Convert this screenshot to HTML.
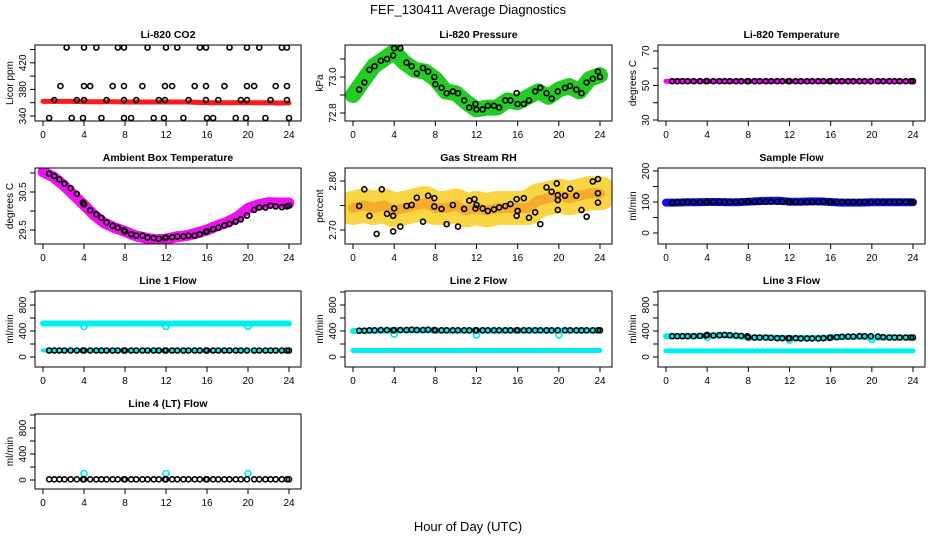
<!DOCTYPE html>
<html><head><meta charset="utf-8"><style>
html,body{margin:0;padding:0;background:#fff}
svg{display:block;font-family:"Liberation Sans",sans-serif}
</style></head><body>
<svg id="c" width="936" height="540" viewBox="0 0 936 540">
<text x="468" y="14" text-anchor="middle" font-size="13">FEF_130411  Average Diagnostics</text>
<text x="468" y="531" text-anchor="middle" font-size="13">Hour of Day (UTC)</text>
</svg>
<script>
const hourly=[0,1,2,3,4,5,6,7,8,9,10,11,12,13,14,15,16,17,18,19,20,21,22,23,24];
const xTicks=[0,4,8,12,16,20,24];
const co2BandVals=[362,362,362,362,361.5,361.5,361.5,361.5,361,361,361,361,361,361,361,360.5,360,360,360,360,360,360,360,359.5,359.5];
const co2PtHours=[2.3,4.0,5.2,7.3,7.9,10.2,12.0,13.1,15.3,15.9,18.2,19.9,21.1,23.3,23.8,1.7,4.0,4.6,6.8,7.9,9.7,11.9,12.6,14.8,15.9,17.7,19.9,20.6,22.7,23.8,1.1,3.3,4.0,6.2,7.9,9.1,11.3,11.9,14.2,15.9,17.1,19.3,19.9,22.2,23.8,0.6,2.8,3.9,5.7,7.9,8.6,10.8,11.8,13.7,16.0,16.6,18.8,19.8,21.7,24.0];
const co2PtVals=[443,443,443,443,443,443,443,443,443,443,443,443,443,443,443,385,385,385,385,385,385,385,385,385,385,385,385,385,385,385,364,364,364,364,364,364,364,364,364,364,364,364,364,364,364,337,337,337,337,337,337,337,337,337,337,337,337,337,337,337];
const ptHours=[0.6,1.1,1.6,2.1,2.7,3.3,3.9,4.0,4.6,5.2,5.7,6.2,6.8,7.3,7.9,8.0,8.6,9.1,9.7,10.2,10.8,11.3,11.9,12.0,12.6,13.1,13.7,14.2,14.8,15.3,15.9,16.0,16.6,17.1,17.7,18.2,18.8,19.3,19.9,20.6,21.1,21.7,22.2,22.7,23.3,23.8,24.0];
const pressBandVals=[72.90,72.98,73.06,73.10,73.14,73.08,73.04,73.03,72.99,72.92,72.91,72.86,72.82,72.83,72.83,72.87,72.86,72.89,72.92,72.89,72.93,72.95,72.92,72.99,73.01];
const pressPtVals=[72.93,72.97,73.04,73.06,73.09,73.10,73.12,73.16,73.16,73.08,73.06,73.02,73.05,73.03,73.00,72.96,72.94,72.91,72.92,72.91,72.87,72.83,72.85,72.82,72.82,72.84,72.84,72.83,72.87,72.87,72.91,72.85,72.85,72.87,72.92,72.94,72.91,72.88,72.92,72.94,72.95,72.93,72.91,72.97,72.99,73.03,73.00];
const tempBandVals=[52.5,52.5,52.5,52.5,52.5,52.5,52.5,52.5,52.5,52.5,52.5,52.5,52.5,52.5,52.5,52.5,52.5,52.5,52.5,52.5,52.5,52.5,52.5,52.5,52.5];
const tempPtVals=[52.5,52.5,52.5,52.5,52.5,52.5,52.5,52.5,52.5,52.5,52.5,52.5,52.5,52.5,52.5,52.5,52.5,52.5,52.5,52.5,52.5,52.5,52.5,52.5,52.5,52.5,52.5,52.5,52.5,52.5,52.5,52.5,52.5,52.5,52.5,52.5,52.5,52.5,52.5,52.5,52.5,52.5,52.5,52.5,52.5,52.5,52.5];
const ambBandVals=[31.03,30.90,30.68,30.42,30.16,29.89,29.68,29.56,29.46,29.35,29.29,29.24,29.26,29.32,29.35,29.42,29.50,29.61,29.71,29.85,30.07,30.16,30.22,30.21,30.21];
const ambPtVals=[30.98,30.92,30.83,30.72,30.60,30.45,30.22,30.18,30.02,29.91,29.82,29.70,29.61,29.56,29.49,29.46,29.39,29.35,29.35,29.30,29.29,29.27,29.29,29.30,29.31,29.33,29.33,29.35,29.35,29.39,29.45,29.47,29.52,29.56,29.62,29.66,29.72,29.78,29.88,30.03,30.09,30.09,30.14,30.12,30.10,30.12,30.14];
const rhBandVals=[2.745,2.75,2.745,2.75,2.74,2.745,2.75,2.755,2.745,2.745,2.75,2.74,2.745,2.74,2.745,2.745,2.745,2.745,2.76,2.765,2.77,2.765,2.77,2.775,2.775];
const rhPtHours=[0.6,1.1,1.6,2.3,2.8,3.3,3.9,3.9,4.0,4.6,5.2,5.7,6.2,6.8,7.3,7.9,7.9,8.6,9.1,9.7,10.2,10.8,11.3,11.8,11.9,12.0,12.6,13.1,13.7,14.2,14.8,15.3,15.9,15.9,16.0,16.6,17.1,17.7,18.2,18.8,19.3,19.8,19.9,19.9,19.9,20.6,21.1,21.7,22.2,22.7,23.3,23.8,23.8,23.8];
const rhPtVals=[2.749,2.783,2.729,2.692,2.783,2.733,2.697,2.729,2.744,2.707,2.749,2.751,2.766,2.717,2.770,2.748,2.765,2.743,2.712,2.751,2.707,2.743,2.760,2.763,2.744,2.751,2.744,2.739,2.742,2.746,2.749,2.753,2.763,2.729,2.739,2.765,2.725,2.736,2.712,2.787,2.778,2.795,2.771,2.761,2.741,2.770,2.784,2.770,2.741,2.727,2.799,2.775,2.804,2.756];
const sampleBandVals=[98,98,99,99,100,100,99,99,101,103,104,104,101,101,102,102,100,98,98,98,99,99,99,99,99];
const samplePtVals=[98,99,99,100,100,99,99,100,100,100,100,100,100,101,101,101,101,101,101,101,101,101,101,100,100,100,100,100,100,101,100,100,100,100,100,100,100,100,100,100,100,100,100,100,100,100,99];
const line1HighVals=[515,515,515,515,515,515,515,515,515,515,515,515,515,515,515,515,515,515,515,515,515,515,515,515,515];
const line1LowVals=[100,100,100,100,100,100,100,100,100,100,100,100,100,100,100,100,100,100,100,100,100,100,100,100,100];
const line1PtVals=[100,100,100,100,100,100,100,100,100,100,100,100,100,100,100,100,100,100,100,100,100,100,100,100,100,100,100,100,100,100,100,100,100,100,100,100,100,100,100,100,100,100,100,100,100,100,100];
const cyanDipHours=[4,12,20];
const line1DipVals=[470,470,470];
const line2HighVals=[400,400,405,405,410,410,410,410,405,405,405,405,405,405,405,405,405,405,405,405,405,405,405,405,405];
const line2LowVals=[100,100,100,100,100,100,100,100,100,100,100,100,100,100,100,100,100,100,100,100,100,100,100,100,100];
const line2PtVals=[405,405,410,410,415,415,410,415,415,415,420,415,415,420,415,410,410,410,410,410,410,410,410,410,410,410,410,410,410,410,410,410,410,410,410,410,410,410,410,410,410,410,410,410,410,410,410];
const line2DipVals=[350,340,340];
const line3HighVals=[320,320,320,320,330,330,330,320,300,300,300,295,290,290,290,295,300,310,310,310,300,300,300,300,300];
const line3LowVals=[95,95,95,95,95,95,95,95,95,95,95,95,95,95,95,95,95,95,95,95,95,95,95,95,95];
const line3PtVals=[320,320,320,320,320,325,330,340,330,335,340,335,330,325,320,300,300,300,300,295,290,290,290,290,290,285,285,285,285,290,295,300,305,310,315,315,320,320,320,315,305,300,300,300,300,300,300];
const line3DipVals=[300,260,270];
const line4PtVals=[10,10,10,10,10,10,10,10,10,10,10,10,10,10,10,10,10,10,10,10,10,10,10,10,10,10,10,10,10,10,10,10,10,10,10,10,10,10,10,10,10,10,10,10,10,10,10];
const line4DipVals=[100,100,100];

const svg=document.getElementById('c');
const NS='http://www.w3.org/2000/svg';
function mk(tag,attrs,parent){const e=document.createElementNS(NS,tag);for(const k in attrs)e.setAttribute(k,attrs[k]);(parent||svg).appendChild(e);return e;}
const cols=[[35,301],[345,612],[658,925]];
const rows=[[45,121],[168,244],[291,367],[414,489]];

function panel(opt){
  const [L,R]=cols[opt.col],[T,B]=rows[opt.row];
  const g=mk('g',{});
  
  
  const xs=h=>L+8+h*(R-L-20)/24;
  const ys=v=>opt.p0+(v-opt.v0)*(opt.p1-opt.p0)/(opt.v1-opt.v0);
  const cx=(L+R)/2;
  const t=mk('text',{x:cx,y:T-7,'text-anchor':'middle','font-size':'10.5','font-weight':'bold'},g);
  t.textContent=opt.title;
  
  
  const clip='clip'+opt.row+opt.col;
  const cp=mk('clipPath',{id:clip},g);mk('rect',{x:L,y:T,width:R-L,height:B-T},cp);
  const pg=mk('g',{'clip-path':'url(#'+clip+')'},g);
  opt.draw(pg,xs,ys);
  mk('rect',{x:L,y:T,width:R-L,height:B-T,fill:'none',stroke:'#000','stroke-width':1},g);
  const xa=mk('g',{},g);
  
  
  mk('line',{x1:xs(0),x2:xs(24),y1:B,y2:B,stroke:'#000'},xa);
  xTicks.forEach(h=>{mk('line',{x1:xs(h),x2:xs(h),y1:B,y2:B+5,stroke:'#000'},xa);
    const tt=mk('text',{x:xs(h),y:B+17,'text-anchor':'middle','font-size':'10'},xa);tt.textContent=h;});
  const ya=mk('g',{},g);
  
  
  opt.ticks.forEach(v=>{const y=ys(v);mk('line',{x1:L,x2:L-5,y1:y,y2:y,stroke:'#000'},ya);});
  opt.labels.forEach(v=>{const y=ys(v);const tt=mk('text',{x:L-9,y:y,'text-anchor':'middle','font-size':'10',transform:`rotate(-90 ${L-9} ${y})`},ya);tt.textContent=opt.fmt?opt.fmt(v):v;});
  const ym=(T+B)/2;
  const yl=mk('text',{x:L-22,y:ym,'text-anchor':'middle','font-size':'10',transform:`rotate(-90 ${L-22} ${ym})`},g);
  yl.textContent=opt.ylab;
  
  
}
function band(g,xs,ys,vals,color,w,name,op){
  const p=mk('polyline',{points:hourly.map((h,i)=>xs(h)+','+ys(vals[i])).join(' '),fill:'none',stroke:color,'stroke-width':w,'stroke-linecap':'round','stroke-linejoin':'round','stroke-opacity':op||1},g);
  
  
}
function pts(g,xs,ys,hrs,vals,color,name,r){
  hrs.forEach((h,i)=>{const c=mk('circle',{cx:xs(h),cy:ys(vals[i]),r:r||2.5,fill:'none',stroke:color,'stroke-width':1.6},g);
    
    });
}
const flowTicks=[0,200,400,600,800,1000],flowLabels=[0,400,800];

panel({name:'co2-panel',col:0,row:0,title:'Li-820 CO2',ylab:'Licor ppm',v0:340,v1:420,p0:116,p1:62.8,ticks:[340,360,380,400,420,440],labels:[340,380,420],
  draw:(g,xs,ys)=>{band(g,xs,ys,co2BandVals,'#ff1a1a',5,'co2-band');pts(g,xs,ys,co2PtHours,co2PtVals,'#000','co2-point');}});
panel({name:'pressure-panel',col:1,row:0,title:'Li-820 Pressure',ylab:'kPa',v0:72.8,v1:73.0,p0:113,p1:77,ticks:[72.8,72.9,73.0,73.1],labels:[72.8,73.0],fmt:v=>v.toFixed(1),
  draw:(g,xs,ys)=>{band(g,xs,ys,pressBandVals,'#22cc22',16,'pressure-band');pts(g,xs,ys,ptHours,pressPtVals,'#000','pressure-point');}});
panel({name:'li820-temperature-panel',col:2,row:0,title:'Li-820 Temperature',ylab:'degrees C',v0:30,v1:70,p0:120,p1:51,ticks:[30,40,50,60,70],labels:[30,50,70],
  draw:(g,xs,ys)=>{band(g,xs,ys,tempBandVals,'#ff00ff',5,'temperature-band');pts(g,xs,ys,ptHours,tempPtVals,'#000','temperature-point');}});
panel({name:'ambient-temperature-panel',col:0,row:1,title:'Ambient Box Temperature',ylab:'degrees C',v0:29.5,v1:30.5,p0:230,p1:192,ticks:[29.5,30,30.5,31],labels:[29.5,30.5],fmt:v=>v.toFixed(1),
  draw:(g,xs,ys)=>{band(g,xs,ys,ambBandVals,'#ee10ee',11,'ambient-band');pts(g,xs,ys,ptHours,ambPtVals,'#000','ambient-point');}});
panel({name:'rh-panel',col:1,row:1,title:'Gas Stream RH',ylab:'percent',v0:2.70,v1:2.80,p0:230,p1:181,ticks:[2.70,2.75,2.80],labels:[2.70,2.80],fmt:v=>v.toFixed(2),
  draw:(g,xs,ys)=>{band(g,xs,ys,rhBandVals,'#f8d030',34,'rh-band',0.9);band(g,xs,ys,rhBandVals,'#f09020',10,'rh-band-core',0.6);pts(g,xs,ys,rhPtHours,rhPtVals,'#000','rh-point');}});
panel({name:'sample-flow-panel',col:2,row:1,title:'Sample Flow',ylab:'ml/min',v0:0,v1:200,p0:233,p1:171,ticks:[0,50,100,150,200],labels:[0,100,200],
  draw:(g,xs,ys)=>{band(g,xs,ys,sampleBandVals,'#1010ee',8,'sample-flow-band');pts(g,xs,ys,ptHours,samplePtVals,'#000','sample-flow-point');}});
panel({name:'line1-flow-panel',col:0,row:2,title:'Line 1 Flow',ylab:'ml/min',v0:0,v1:800,p0:357,p1:305,ticks:flowTicks,labels:flowLabels,
  draw:(g,xs,ys)=>{band(g,xs,ys,line1HighVals,'#00f0f0',6,'line1-high-band');band(g,xs,ys,line1LowVals,'#00f0f0',4,'line1-low-band');pts(g,xs,ys,cyanDipHours,line1DipVals,'#00e8e8','line1-cyan-point',3);pts(g,xs,ys,ptHours,line1PtVals,'#000','line1-point');}});
panel({name:'line2-flow-panel',col:1,row:2,title:'Line 2 Flow',ylab:'ml/min',v0:0,v1:800,p0:357,p1:305,ticks:flowTicks,labels:flowLabels,
  draw:(g,xs,ys)=>{band(g,xs,ys,line2HighVals,'#00f0f0',6,'line2-high-band');band(g,xs,ys,line2LowVals,'#00f0f0',5,'line2-low-band');pts(g,xs,ys,cyanDipHours,line2DipVals,'#00e8e8','line2-cyan-point',3);pts(g,xs,ys,ptHours,line2PtVals,'#000','line2-point');}});
panel({name:'line3-flow-panel',col:2,row:2,title:'Line 3 Flow',ylab:'ml/min',v0:0,v1:800,p0:357,p1:305,ticks:flowTicks,labels:flowLabels,
  draw:(g,xs,ys)=>{band(g,xs,ys,line3HighVals,'#00f0f0',6,'line3-high-band');band(g,xs,ys,line3LowVals,'#00f0f0',5,'line3-low-band');pts(g,xs,ys,cyanDipHours,line3DipVals,'#00e8e8','line3-cyan-point',3);pts(g,xs,ys,ptHours,line3PtVals,'#000','line3-point');}});
panel({name:'line4-flow-panel',col:0,row:3,title:'Line 4 (LT) Flow',ylab:'ml/min',v0:0,v1:800,p0:480,p1:428,ticks:flowTicks,labels:flowLabels,
  draw:(g,xs,ys)=>{pts(g,xs,ys,cyanDipHours,line4DipVals,'#00e8e8','line4-cyan-point',3);pts(g,xs,ys,ptHours,line4PtVals,'#000','line4-point');}});
</script>
</body></html>
